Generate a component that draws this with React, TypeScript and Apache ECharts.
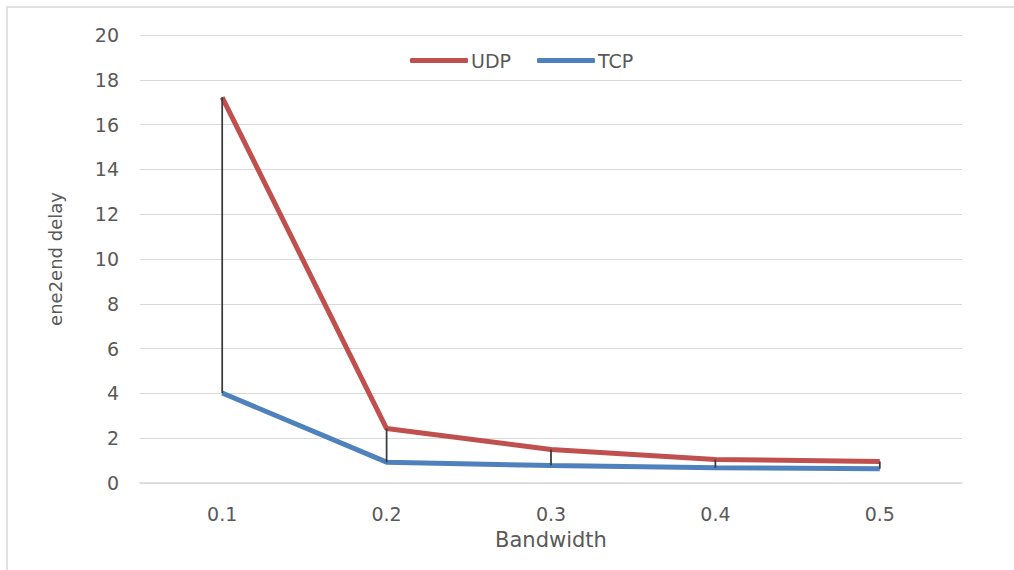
import React, { useEffect, useRef } from "react";
import * as echarts from "echarts";

const categories = ["0.1", "0.2", "0.3", "0.4", "0.5"];
const udp = [17.22, 2.43, 1.5, 1.05, 0.96];
const tcp = [4.02, 0.93, 0.78, 0.68, 0.64];
const yTicks = { min: 0, max: 20, interval: 2 };

export default function App() {
  const ref = useRef<HTMLDivElement>(null);
  useEffect(() => {
    if (!ref.current) return;
    const chart = echarts.init(ref.current, null, { renderer: "svg" });
    const font = "'DejaVu Sans', sans-serif";
    const hiLo = categories.map((_, i) => [i, udp[i], tcp[i]]);
    chart.setOption({
      animation: false,
      backgroundColor: "#ffffff",
      textStyle: { fontFamily: font },
      graphic: [
        {
          type: "rect",
          shape: { x: 7, y: 7, width: 1030, height: 590 },
          style: { fill: "none", stroke: "#d9d9d9", lineWidth: 1.5 },
          silent: true,
        },
      ],
      legend: {
        data: ["UDP", "TCP"],
        top: 46,
        left: 405,
        itemWidth: 58,
        itemHeight: 5,
        itemGap: 26,
        icon: "roundRect",
        textStyle: { color: "#595959", fontSize: 19, fontFamily: font, padding: [0, 0, 0, -2] },
      },
      grid: { left: 140, right: 52, top: 35, bottom: 87, containLabel: false },
      xAxis: {
        type: "category",
        data: categories,
        boundaryGap: true,
        name: "Bandwidth",
        nameLocation: "middle",
        nameGap: 46,
        nameTextStyle: { color: "#595959", fontSize: 21, fontFamily: font },
        axisLine: { lineStyle: { color: "#d9d9d9", width: 1.5 } },
        axisTick: { show: false },
        axisLabel: { color: "#595959", fontSize: 19, margin: 21, fontFamily: font },
      },
      yAxis: {
        type: "value",
        min: yTicks.min,
        max: yTicks.max,
        interval: yTicks.interval,
        name: "ene2end delay",
        nameLocation: "middle",
        nameGap: 76,
        nameTextStyle: { color: "#595959", fontSize: 18, fontFamily: font },
        axisLine: { show: false },
        axisTick: { show: false },
        axisLabel: { color: "#595959", fontSize: 19, margin: 21, fontFamily: font },
        splitLine: { lineStyle: { color: "#d9d9d9", width: 1 } },
      },
      series: [
        {
          name: "UDP",
          type: "line",
          data: udp,
          symbol: "none",
          lineStyle: { color: "#c0504d", width: 5 },
          itemStyle: { color: "#c0504d" },
          z: 2,
        },
        {
          name: "TCP",
          type: "line",
          data: tcp,
          symbol: "none",
          lineStyle: { color: "#4f81bd", width: 5 },
          itemStyle: { color: "#4f81bd" },
          z: 2,
        },
        {
          name: "HighLow",
          type: "custom",
          data: hiLo,
          z: 3,
          renderItem: (params: any, api: any) => {
            const p1 = api.coord([api.value(0), api.value(1)]);
            const p2 = api.coord([api.value(0), api.value(2)]);
            return {
              type: "line",
              shape: { x1: p1[0], y1: p1[1], x2: p2[0], y2: p2[1] },
              style: { stroke: "#3a3a3a", lineWidth: 1.75 },
            };
          },
        },
      ],
    });
    return () => chart.dispose();
  }, []);
  return (
    <div
      ref={ref}
      style={{ position: "fixed", left: 0, top: 0, width: 1014, height: 570 }}
    />
  );
}
